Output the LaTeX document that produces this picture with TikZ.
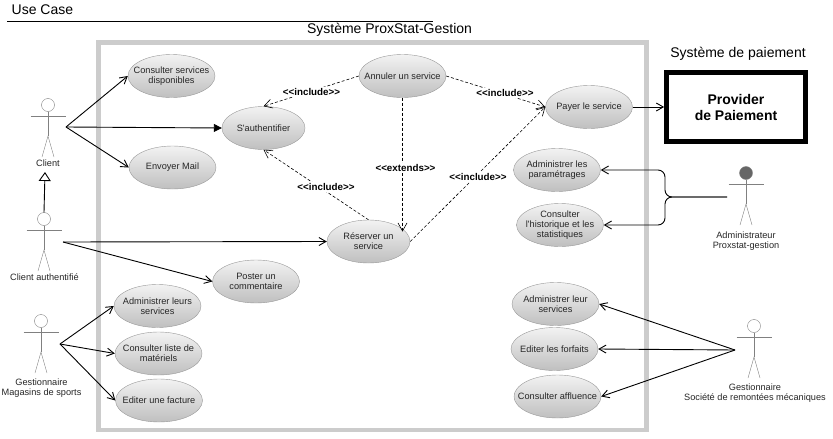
\documentclass[tikz,border=0pt]{standalone}
\usepackage{fontspec}
\usetikzlibrary{arrows.meta, shapes.geometric}
\newfontfamily\umlfont{Liberation Sans}
\definecolor{framegray}{HTML}{CCCCCC}
\definecolor{stickgray}{HTML}{808080}
\tikzset{
  usecase/.style={ellipse, draw=black!40, top color=black!5, bottom color=black!25, minimum width=87pt, minimum height=43pt, inner xsep=-15pt, inner ysep=-6pt, align=center, text=black!85, font=\umlfont\fontsize{9.2}{10.3}\selectfont},
  actorname/.style={align=center, inner sep=0pt, text=black!85, font=\umlfont\fontsize{9.2}{10.2}\selectfont},
  actorhead/.style={circle, draw=stickgray, minimum size=13pt, inner sep=0pt},
  title/.style={inner sep=0pt, font=\umlfont\fontsize{14}{16}\selectfont},
  stereo/.style={fill=white, inner sep=1pt, font=\umlfont\bfseries\fontsize{9.8}{11}\selectfont},
  assoc/.style={-{Straight Barb[length=7pt,width=8pt]}, line width=0.9pt},
  incl/.style={-{Straight Barb[length=8pt,width=9pt]}, dashed, dash pattern=on 3pt off 2pt, line width=0.6pt}
}
\begin{document}
\begin{tikzpicture}[x=1pt,y=-1pt]
  \useasboundingbox (0,0) rectangle (833,439);
  % titles and frames
  \node[title, anchor=west] (ucTitle) at (11.5,10) {Use Case};
  \coordinate (ruleL) at (7,21);
  \coordinate (ruleR) at (433,21);
  \draw[line width=0.7pt] (ruleL) -- (ruleR);
  \node[title] (sysTitle) at (389.5,30) {Système ProxStat-Gestion};
  \draw[framegray, line width=4.6pt] (98.5,42.5) rectangle (646.5,430);
  \node[title] (payTitle) at (738,54) {Système de paiement};
  \node[draw, line width=4.7pt, minimum width=139pt, minimum height=69pt, align=center, inner sep=0pt, font=\umlfont\bfseries\fontsize{14}{16}\selectfont] (provider) at (736,107) {Provider\\de Paiement};

  % use cases
  \node[usecase] (ucConsulter) at (171.5,76) {Consulter services\\disponibles};
  \node[usecase, minimum width=83pt] (ucAuth) at (263.5,128) {S'authentifier};
  \node[usecase] (ucMail) at (172.5,167.5) {Envoyer Mail};
  \node[usecase] (ucAnnuler) at (402.5,76) {Annuler un service};
  \node[usecase] (ucPayer) at (589,107) {Payer le service};
  \node[usecase] (ucParam) at (557,170) {Administrer les\\paramétrages};
  \node[usecase] (ucHisto) at (560,225) {Consulter\\l'historique et les\\statistiques};
  \node[usecase, minimum width=83pt] (ucReserver) at (368.5,241.5) {Réserver un\\service};
  \node[usecase] (ucPoster) at (256,281.5) {Poster un\\commentaire};
  \node[usecase] (ucLeurs) at (157.5,306) {Administrer leurs\\services};
  \node[usecase] (ucListe) at (158.5,353.5) {Consulter liste de\\matériels};
  \node[usecase] (ucFacture) at (159,400.5) {Editer une facture};
  \node[usecase] (ucLeur) at (555.5,304) {Administrer leur\\services};
  \node[usecase] (ucForfaits) at (554.5,349) {Editer les forfaits};
  \node[usecase] (ucAffluence) at (557.5,396.5) {Consulter affluence};

  % actors
  \foreach \nm/\x/\y/\hd in {client/48/105/white, authent/44/219/white, magasin/41/321/white, admin/746/173/black!60, societe/754/326/white}{
    \node[actorhead, fill=\hd] (\nm) at (\x,\y) {};
    \draw[stickgray] (\x-17.5,\y+11) -- (\x+17.5,\y+11);
    \draw[stickgray] (\nm.south) -- (\x,\y+31);
    \draw[stickgray] (\x-6,\y+52) -- (\x,\y+31) -- (\x+6,\y+52);
  }
  \node[actorname] (clientName) at (48,163.5) {Client};
  \node[actorname] (authentName) at (44.5,277.5) {Client authentifié};
  \node[actorname] (magasinName) at (41.5,388) {Gestionnaire\\Magasins de sports};
  \node[actorname] (adminName) at (746,241) {Administrateur\\Proxstat-gestion};
  \node[actorname] (societeName) at (755,393.5) {Gestionnaire\\Société de remontées mécaniques};

  % attach points
  \coordinate (clientA) at (66,127);
  \coordinate (authentA) at (63,242);
  \coordinate (magasinA) at (60,344);
  \coordinate (adminA) at (727,197);
  \coordinate (societeA) at (735,350);
  \coordinate (braceM) at (665,197);
  \coordinate (clientTip) at (45,172);

  % associations
  \draw[assoc] (clientA) -- (ucConsulter.west);
  \draw[-{Triangle[length=8pt,width=8pt]}, line width=0.9pt] (clientA) -- (ucAuth.west);
  \draw[assoc] (clientA) -- (ucMail.west);
  \draw[-{Triangle[open,length=9pt,width=12pt]}, line width=0.9pt] (authent.north) -- (clientTip);
  \draw[assoc] (authentA) -- (ucReserver.west);
  \draw[assoc] (authentA) -- (ucPoster.west);
  \draw[assoc] (magasinA) -- (ucLeurs.west);
  \draw[assoc] (magasinA) -- (ucListe.west);
  \draw[assoc] (magasinA) -- (ucFacture.west);
  \draw[assoc] (ucPayer.east) -- (provider.west);
  \draw[assoc, rounded corners=7pt] (adminA) -- (braceM) |- (ucParam.east);
  \draw[assoc, rounded corners=7pt] (adminA) -- (braceM) |- (ucHisto.east);
  \draw[assoc] (societeA) -- (ucLeur.east);
  \draw[assoc] (societeA) -- (ucForfaits.east);
  \draw[assoc] (societeA) -- (ucAffluence.east);

  % include and extends
  \draw[incl] (ucAnnuler.west) -- (ucAuth.north);
  \draw[incl] (ucReserver.north) -- (ucAuth.south);
  \draw[incl] (ucAnnuler.east) -- (ucPayer.west);
  \draw[incl] (ucReserver.east) -- (ucPayer.west);
  \draw[incl] (ucAnnuler.south) -- (ucAnnuler.south |- ucReserver.15);
  \node[stereo] (lblAuthA) at (311.5,92) {<{}<include>{}>};
  \node[stereo] (lblAuthB) at (326,187) {<{}<include>{}>};
  \node[stereo] (lblPayA) at (505,93) {<{}<include>{}>};
  \node[stereo] (lblPayB) at (478,177) {<{}<include>{}>};
  \node[stereo] (lblExt) at (405.5,168) {<{}<extends>{}>};
\end{tikzpicture}
\end{document}
